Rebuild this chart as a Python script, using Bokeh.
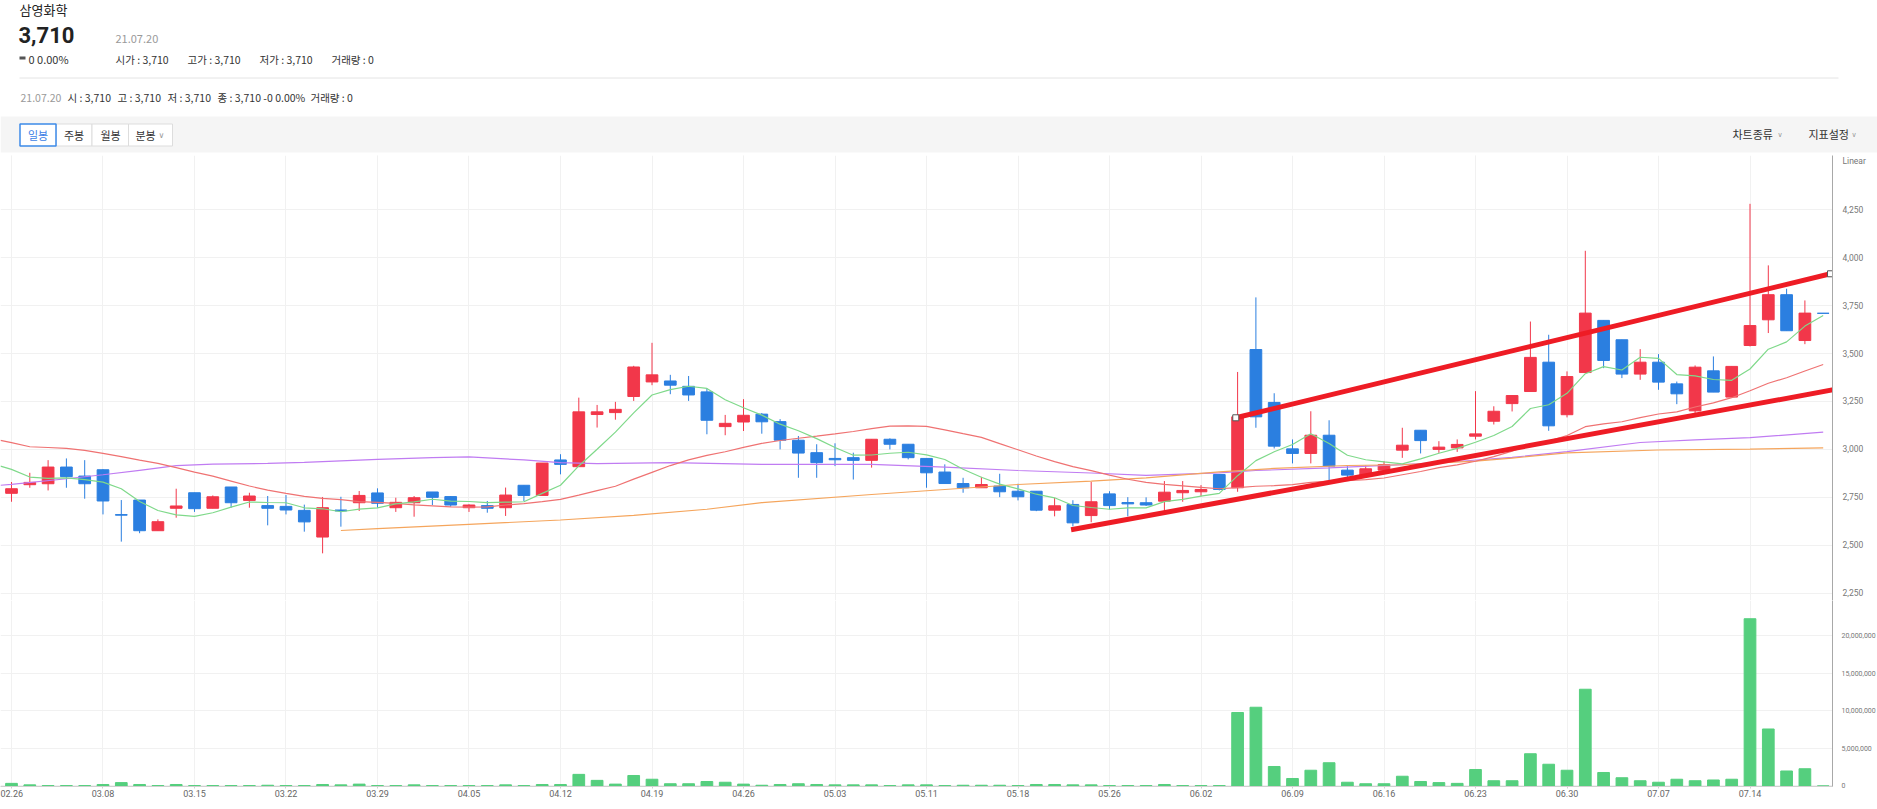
import pandas as pd
from bokeh.plotting import figure
from bokeh.layouts import column
from bokeh.models import Range1d, FixedTicker, NumeralTickFormatter, ColumnDataSource, Grid
from bokeh.embed import file_html
from bokeh.resources import INLINE
from bokeh.core.properties import value

# ---------------- data ----------------
dates = ["02.26", "03.02", "03.03", "03.04", "03.05", "03.08", "03.09", "03.10", "03.11", "03.12",
         "03.15", "03.16", "03.17", "03.18", "03.19", "03.22", "03.23", "03.24", "03.25", "03.26",
         "03.29", "03.30", "03.31", "04.01", "04.02", "04.05", "04.06", "04.07", "04.08", "04.09",
         "04.12", "04.13", "04.14", "04.15", "04.16", "04.19", "04.20", "04.21", "04.22", "04.23",
         "04.26", "04.27", "04.28", "04.29", "04.30", "05.03", "05.04", "05.06", "05.07", "05.10",
         "05.11", "05.12", "05.13", "05.14", "05.17", "05.18", "05.20", "05.21", "05.24", "05.25",
         "05.26", "05.27", "05.28", "05.31", "06.01", "06.02", "06.03", "06.04", "06.07", "06.08",
         "06.09", "06.10", "06.11", "06.14", "06.15", "06.16", "06.17", "06.18", "06.21", "06.22",
         "06.23", "06.24", "06.25", "06.28", "06.29", "06.30", "07.01", "07.02", "07.05", "07.06",
         "07.07", "07.08", "07.09", "07.12", "07.13", "07.14", "07.15", "07.16", "07.19", "07.20"]

open_ = [2771, 2816, 2821, 2908, 2861, 2894, 2660, 2736, 2576, 2693,
         2774, 2693, 2804, 2734, 2707, 2703, 2682, 2543, 2684, 2722,
         2773, 2696, 2722, 2778, 2754, 2696, 2707, 2696, 2813, 2760,
         2945, 2910, 3182, 3192, 3276, 3352, 3357, 3329, 3300, 3119,
         3143, 3184, 3145, 3048, 2983, 2953, 2957, 2943, 3053, 3027,
         2953, 2882, 2822, 2800, 2809, 2782, 2782, 2683, 2713, 2655,
         2768, 2723, 2722, 2730, 2774, 2779, 2869, 2800, 3521, 3245,
         3003, 2979, 3074, 2892, 2866, 2892, 2996, 3100, 3000, 3008,
         3069, 3147, 3239, 3302, 3455, 3181, 3401, 3673, 3572, 3393,
         3455, 3342, 3201, 3410, 3273, 3542, 3676, 3807, 3568, 3710]
high_ = [2830, 2878, 2944, 2953, 2944, 2897, 2736, 2736, 2635, 2795,
         2774, 2760, 2804, 2774, 2757, 2762, 2712, 2752, 2753, 2783,
         2797, 2748, 2757, 2778, 2757, 2714, 2731, 2801, 2813, 2929,
         2975, 3270, 3232, 3248, 3436, 3556, 3389, 3383, 3319, 3180,
         3262, 3190, 3158, 3070, 3027, 3032, 2983, 3053, 3058, 3027,
         2953, 2922, 2852, 2857, 2873, 2821, 2782, 2747, 2735, 2831,
         2782, 2751, 2750, 2835, 2835, 2814, 2869, 3404, 3793, 3293,
         3052, 3199, 3152, 2913, 2916, 2939, 3113, 3100, 3043, 3052,
         3304, 3225, 3281, 3667, 3598, 3407, 4036, 3673, 3572, 3523,
         3497, 3354, 3438, 3485, 3433, 4281, 3960, 3838, 3777, 3710]
low_ = [2727, 2800, 2786, 2800, 2743, 2661, 2519, 2563, 2576, 2644,
        2674, 2693, 2696, 2696, 2604, 2661, 2571, 2458, 2597, 2679,
        2696, 2674, 2649, 2710, 2701, 2674, 2670, 2653, 2731, 2760,
        2870, 2910, 3114, 3155, 3253, 3335, 3288, 3253, 3079, 3074,
        3096, 3082, 3000, 2852, 2852, 2913, 2843, 2905, 3000, 2948,
        2800, 2822, 2774, 2800, 2751, 2734, 2678, 2651, 2599, 2620,
        2686, 2651, 2705, 2678, 2727, 2756, 2786, 2779, 3113, 3005,
        2927, 2927, 2835, 2852, 2852, 2879, 2956, 2979, 2982, 2987,
        3052, 3130, 3198, 3302, 3097, 3167, 3401, 3424, 3372, 3363,
        3311, 3236, 3189, 3299, 3273, 3537, 3607, 3619, 3549, 3710]
close_ = [2795, 2828, 2908, 2858, 2821, 2731, 2657, 2576, 2623, 2705,
          2691, 2753, 2722, 2757, 2693, 2684, 2622, 2696, 2679, 2760,
          2719, 2724, 2748, 2750, 2710, 2710, 2693, 2762, 2760, 2929,
          2922, 3196, 3196, 3209, 3430, 3389, 3335, 3284, 3152, 3136,
          3178, 3144, 3048, 2981, 2931, 2946, 2943, 3053, 3027, 2957,
          2878, 2822, 2800, 2817, 2779, 2753, 2683, 2706, 2617, 2727,
          2707, 2716, 2710, 2777, 2786, 2791, 2791, 3170, 3170, 3017,
          2979, 3074, 2913, 2866, 2899, 2921, 3022, 3046, 3012, 3026,
          3081, 3199, 3281, 3480, 3123, 3380, 3711, 3464, 3393, 3455,
          3351, 3290, 3429, 3299, 3433, 3646, 3807, 3619, 3711, 3710]
volume = [350000, 150000, 50000, 50000, 50000, 200000, 450000, 200000, 50000, 200000,
          50000, 50000, 50000, 50000, 100000, 50000, 50000, 200000, 150000, 250000,
          50000, 50000, 150000, 50000, 50000, 50000, 50000, 150000, 50000, 200000,
          200000, 1550000, 750000, 250000, 1400000, 900000, 300000, 300000, 600000, 500000,
          250000, 100000, 200000, 300000, 200000, 150000, 150000, 150000, 50000, 150000,
          150000, 50000, 100000, 100000, 100000, 50000, 200000, 200000, 150000, 150000,
          50000, 50000, 50000, 200000, 50000, 50000, 50000, 9800000, 10500000, 2600000,
          1000000, 2100000, 3100000, 500000, 300000, 300000, 1300000, 600000, 450000, 350000,
          2200000, 700000, 700000, 4300000, 2900000, 2100000, 12900000, 1800000, 1100000, 700000,
          500000, 900000, 700000, 800000, 900000, 22300000, 7600000, 2000000, 2300000, 0]

# moving averages: values read at the left edge / before the rolling window fills
edge_x = -0.6
ma5_edge, ma20_edge, ma60_edge = 2913, 3047, 2813
ma5_head = [2896, 2856, 2849, 2852]
ma20_head = [3035, 3014, 3010, 3005, 2995, 2979, 2962, 2944, 2927, 2905,
             2882, 2861, 2835, 2809, 2788, 2771, 2755, 2745, 2738]
ma60_days = [0, 3, 5, 7, 9, 11, 14, 16, 18, 20, 23, 25, 28, 30, 32, 36, 41, 47, 51, 55,
             59, 62, 66, 68, 72, 76, 79, 82, 85, 89, 92, 95, 99]
ma60_vals = [2818, 2847, 2868, 2891, 2915, 2923, 2927, 2932, 2940, 2948, 2957, 2961, 2945, 2931,
             2926, 2931, 2922, 2922, 2908, 2890, 2877, 2865, 2878, 2890, 2904, 2921, 2937, 2958,
             2988, 3036, 3050, 3061, 3090]
ma120_days = [18, 20, 25, 30, 34, 38, 41, 47, 51, 55, 59, 62, 66, 69, 73, 76, 80, 82, 85, 90, 95, 99]
ma120_vals = [2577, 2587, 2609, 2632, 2656, 2688, 2722, 2765, 2791, 2817, 2835, 2852, 2883, 2901,
              2916, 2920, 2939, 2955, 2982, 2997, 3002, 3008]

# drawn trend lines (day index, price)
upper_x, upper_y = [66.9, 99.4], [3165, 3916]
lower_x, lower_y = [57.9, 99.6], [2581, 3312]

price_ticks = [2250, 2500, 2750, 3000, 3250, 3500, 3750, 4000, 4250]
scale_label_at = 4502
volume_ticks = [0, 5000000, 10000000, 15000000, 20000000]
date_ticks = list(range(0, 100, 5))

# ---------------- style ----------------
KR = "Noto Sans CJK KR"
NUM = "Roboto"
UP = "#f2374a"
DOWN = "#2b7fe0"
VOL = "#55cf7e"
GRID = "#f1f1f1"
X0, X1 = -0.601, 99.508

n = len(close_)
idx = list(range(n))
s_close = pd.Series(close_, dtype=float)
ma5 = list(s_close.rolling(5).mean())
ma20 = list(s_close.rolling(20).mean())
ma5 = ma5_head + ma5[4:]
ma20 = ma20_head + ma20[19:]

colors = [UP if c > o else DOWN for o, c in zip(open_, close_)]
src = ColumnDataSource(dict(
    x=idx, o=open_, h=high_, l=low_, c=close_,
    top=[max(o, c) for o, c in zip(open_, close_)],
    bottom=[min(o, c) for o, c in zip(open_, close_)],
    color=colors, vol=volume))

# ---------------- header ----------------
hdr = figure(width=1877, height=155, x_range=Range1d(0, 1877), y_range=Range1d(155, 0),
             toolbar_location=None, output_backend="svg", title=None,
             x_axis_location=None, y_axis_location=None,
             min_border_left=0, min_border_right=0, min_border_top=0, min_border_bottom=0,
             outline_line_color=None)
hdr.xgrid.visible = False
hdr.ygrid.visible = False


def txt(x, y, s, size, color, font=KR, bold=False, align="left"):
    hdr.text(x=[x], y=[y], text=[s], text_font=value(font), text_font_size=f"{size}px",
             text_color=color, text_baseline="middle", text_align=align,
             text_font_style="bold" if bold else "normal")


txt(19, 9, "삼영화학", 13, "#222222")
txt(18, 34, "3,710", 22, "#222222", font=NUM, bold=True)
txt(115, 38, "21.07.20", 11, "#9a9a9a")
hdr.quad(left=[19], right=[25], top=[56], bottom=[59], fill_color="#555555", line_color=None)
txt(28, 58.5, "0 0.00%", 11, "#333333")
txt(115, 58.5, "시가 : 3,710", 10.5, "#333333")
txt(187, 58.5, "고가 : 3,710", 10.5, "#333333")
txt(259, 58.5, "저가 : 3,710", 10.5, "#333333")
txt(331, 58.5, "거래량 : 0", 10.5, "#333333")
hdr.segment(x0=[19], y0=[77.5], x1=[1838], y1=[77.5], line_color="#e4e4e4", line_width=1)
txt(20, 97, "21.07.20", 10.5, "#9a9a9a")
txt(67, 97, "시 : 3,710", 10.5, "#333333")
txt(117, 97, "고 : 3,710", 10.5, "#333333")
txt(167, 97, "저 : 3,710", 10.5, "#333333")
txt(217, 97, "종 : 3,710 -0 0.00%", 10.5, "#333333")
txt(310, 97, "거래량 : 0", 10.5, "#333333")

# toolbar band
hdr.quad(left=[0], right=[1877], top=[116], bottom=[152], fill_color="#f5f5f5", line_color=None)
hdr.quad(left=[55.5, 91.5, 128], right=[91.5, 128, 172], top=[123.5] * 3, bottom=[145.5] * 3,
         fill_color="white", line_color="#dddddd", line_width=1)
hdr.quad(left=[19.5], right=[55.5], top=[123.5], bottom=[145.5],
         fill_color="white", line_color="#3d8ae8", line_width=1.5)
txt(37.5, 134.5, "일봉", 11, "#3d7fe6", align="center")
txt(73.5, 134.5, "주봉", 11, "#333333", align="center")
txt(110, 134.5, "월봉", 11, "#333333", align="center")
txt(145, 134.5, "분봉", 11, "#333333", align="center")
txt(158, 135, "∨", 8, "#999999", font="DejaVu Sans")
txt(1732, 133, "차트종류", 11, "#333333")
txt(1777, 134, "∨", 7, "#999999", font="DejaVu Sans")
txt(1808, 133, "지표설정", 11, "#333333")
txt(1851, 134, "∨", 7, "#999999", font="DejaVu Sans")

# ---------------- price panel ----------------
p = figure(frame_width=1832, frame_height=445, x_range=Range1d(X0, X1), y_range=Range1d(2212, 4533),
           toolbar_location=None, output_backend="svg", title=None,
           x_axis_location=None, y_axis_location="right",
           min_border_left=0, min_border_right=0, min_border_top=0, min_border_bottom=0,
           outline_line_color=None)
p.yaxis.ticker = FixedTicker(ticks=price_ticks + [scale_label_at])
p.yaxis.formatter = NumeralTickFormatter(format="0,0")
p.yaxis.major_label_overrides = {scale_label_at: "Linear"}
p.ygrid.ticker = FixedTicker(ticks=price_ticks)
p.ygrid.grid_line_color = GRID
p.add_layout(Grid(dimension=0, ticker=FixedTicker(ticks=date_ticks), grid_line_color=GRID))
for ax in p.yaxis:
    ax.axis_line_color = "#a8a8a8"
    ax.major_tick_line_color = None
    ax.minor_tick_line_color = None
    ax.major_label_text_font = NUM
    ax.major_label_text_font_size = "8.5px"
    ax.major_label_text_color = "#777777"
    ax.major_label_standoff = 4

p.segment(x0="x", y0="l", x1="x", y1="h", source=src, line_color="color", line_width=1)
p.vbar(x="x", width=0.64, top="top", bottom="bottom", source=src,
       fill_color="color", line_color="color", line_width=1)

p.line([edge_x] + ma60_days, [ma60_edge] + ma60_vals, line_color="#c07cf2", line_width=1.2)
p.line(ma120_days, ma120_vals, line_color="#f5a55c", line_width=1.2)
p.line([edge_x] + idx, [ma20_edge] + ma20, line_color="#ef7272", line_width=1.2)
p.line([edge_x] + idx, [ma5_edge] + ma5, line_color="#7fd98a", line_width=1.2)

p.line(upper_x, upper_y, line_color="#ee1c25", line_width=5, line_cap="butt")
p.line(lower_x, lower_y, line_color="#ee1c25", line_width=5, line_cap="butt")
p.scatter(upper_x, upper_y, marker="square", size=6, fill_color="white", line_color="#555555",
          line_width=1)

# ---------------- volume panel ----------------
v = figure(frame_width=1832, frame_height=186, x_range=p.x_range, y_range=Range1d(-67000, 24730000),
           toolbar_location=None, output_backend="svg", title=None,
           x_axis_location="below", y_axis_location="right",
           min_border_left=0, min_border_right=0, min_border_top=0, min_border_bottom=0,
           outline_line_color=None)
v.yaxis.ticker = FixedTicker(ticks=volume_ticks)
v.yaxis.formatter = NumeralTickFormatter(format="0,0")
v.ygrid.ticker = FixedTicker(ticks=volume_ticks)
v.ygrid.grid_line_color = GRID
v.xaxis.ticker = FixedTicker(ticks=date_ticks)
v.xaxis.major_label_overrides = {i: dates[i] for i in date_ticks}
v.xgrid.ticker = FixedTicker(ticks=date_ticks)
v.xgrid.grid_line_color = GRID
for ax in v.yaxis:
    ax.axis_line_color = "#a8a8a8"
    ax.major_tick_line_color = None
    ax.minor_tick_line_color = None
    ax.major_label_text_font = NUM
    ax.major_label_text_font_size = "7px"
    ax.major_label_text_color = "#777777"
    ax.major_label_standoff = 3
for ax in v.xaxis:
    ax.axis_line_color = "#d0d0d0"
    ax.major_tick_line_color = "#d0d0d0"
    ax.major_tick_in = 0
    ax.major_tick_out = 2
    ax.minor_tick_line_color = None
    ax.major_label_text_font = NUM
    ax.major_label_text_font_size = "9px"
    ax.major_label_text_color = "#666666"
    ax.major_label_standoff = 1

v.vbar(x="x", width=0.64, top="vol", bottom=0, source=src, fill_color=VOL, line_color=VOL)

# header is its own root so its frame is not aligned with the chart frames
charts = column(p, v)
open("out.html", "w").write(file_html([hdr, charts], INLINE))
